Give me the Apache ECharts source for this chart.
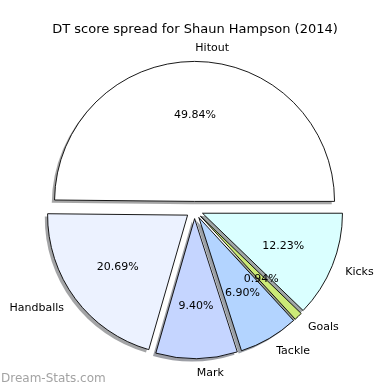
<!DOCTYPE html>
<html>
<head>
<meta charset="utf-8">
<script src="https://cdn.jsdelivr.net/npm/echarts@6/dist/echarts.min.js"></script>
<style>html,body{margin:0;padding:0;background:#fff;}#c{width:390px;height:390px;}</style>
</head>
<body>
<div id="c"></div>
<script>
const titleText = 'DT score spread for Shaun Hampson (2014)';
const categories = ['Hitout', 'Handballs', 'Mark', 'Tackle', 'Goals', 'Kicks'];
const values = [49.84, 20.69, 9.40, 6.90, 0.94, 12.23];
const sliceColors = ['#ffffff', '#ecf2ff', '#c5d5ff', '#b3d4ff', '#ccea77', '#daffff'];
const watermark = 'Dream-Stats.com';

const CX = 194.5, CY = 210, R = 140, EXPLODE = 8.6;
const SH = 2.8;
const FONT = 'DejaVu Sans';

function shade(hex) {
  const n = parseInt(hex.slice(1), 16);
  const r = Math.round(((n >> 16) & 255) * 0.3);
  const g = Math.round(((n >> 8) & 255) * 0.3);
  const b = Math.round((n & 255) * 0.3);
  return 'rgba(' + r + ',' + g + ',' + b + ',0.5)';
}

function makeData(styleFn) {
  return categories.map((name, i) => ({
    name: name,
    value: values[i],
    selected: true,
    itemStyle: styleFn(i)
  }));
}

const common = {
  type: 'pie',
  startAngle: 0,
  clockwise: false,
  selectedMode: 'multiple',
  selectedOffset: EXPLODE,
  avoidLabelOverlap: false,
  silent: true,
  animation: false,
  emphasis: { disabled: true },
  minAngle: 0,
  minShowLabelAngle: 0
};

const chart = echarts.init(document.getElementById('c'), null, { renderer: 'canvas' });
chart.setOption({
  backgroundColor: '#ffffff',
  animation: false,
  title: {
    text: titleText,
    left: 'center',
    top: 17,
    textStyle: { fontFamily: FONT, fontSize: 13, fontWeight: 'normal', color: '#000', lineHeight: 16 }
  },
  graphic: [{
    type: 'text',
    left: 1,
    top: 373,
    style: { text: watermark, fill: '#a3a3a3', font: '12px "DejaVu Sans"' }
  }],
  series: [
    Object.assign({}, common, {
      name: 'shadow',
      z: 1,
      center: [CX - SH, CY + SH],
      radius: [0, R],
      label: { show: false },
      labelLine: { show: false },
      data: makeData(i => ({ color: shade(sliceColors[i]), borderWidth: 0 })),
      select: { itemStyle: {} }
    }),
    Object.assign({}, common, {
      name: 'slices',
      z: 2,
      center: [CX, CY],
      radius: [0, R],
      label: { show: false },
      labelLine: { show: false },
      data: makeData(i => ({ color: sliceColors[i], borderColor: '#000', borderWidth: 0.9 })),
      select: { itemStyle: { borderColor: '#000', borderWidth: 0.9 } }
    }),
    Object.assign({}, common, {
      name: 'pct',
      z: 3,
      center: [CX, CY + 0.5],
      radius: [R * 0.2, R],
      label: {
        show: true,
        position: 'inside',
        fontFamily: FONT,
        fontSize: 11,
        color: '#000',
        formatter: p => p.value.toFixed(2) + '%'
      },
      labelLine: { show: false },
      data: makeData(i => ({ color: 'rgba(0,0,0,0)', borderWidth: 0 })),
      select: { itemStyle: { color: 'rgba(0,0,0,0)', borderWidth: 0 } }
    }),
    Object.assign({}, common, {
      name: 'names',
      z: 3,
      center: [CX, CY + 1],
      radius: [0, R * 1.1],
      label: {
        show: true,
        position: 'outside',
        fontFamily: FONT,
        fontSize: 11,
        color: '#000',
        distanceToLabelLine: 0,
        formatter: p => p.name
      },
      labelLine: { show: false, length: 0, length2: 0 },
      data: makeData(i => ({ color: 'rgba(0,0,0,0)', borderWidth: 0 })),
      select: { itemStyle: { color: 'rgba(0,0,0,0)', borderWidth: 0 } }
    })
  ]
});
</script>
</body>
</html>
